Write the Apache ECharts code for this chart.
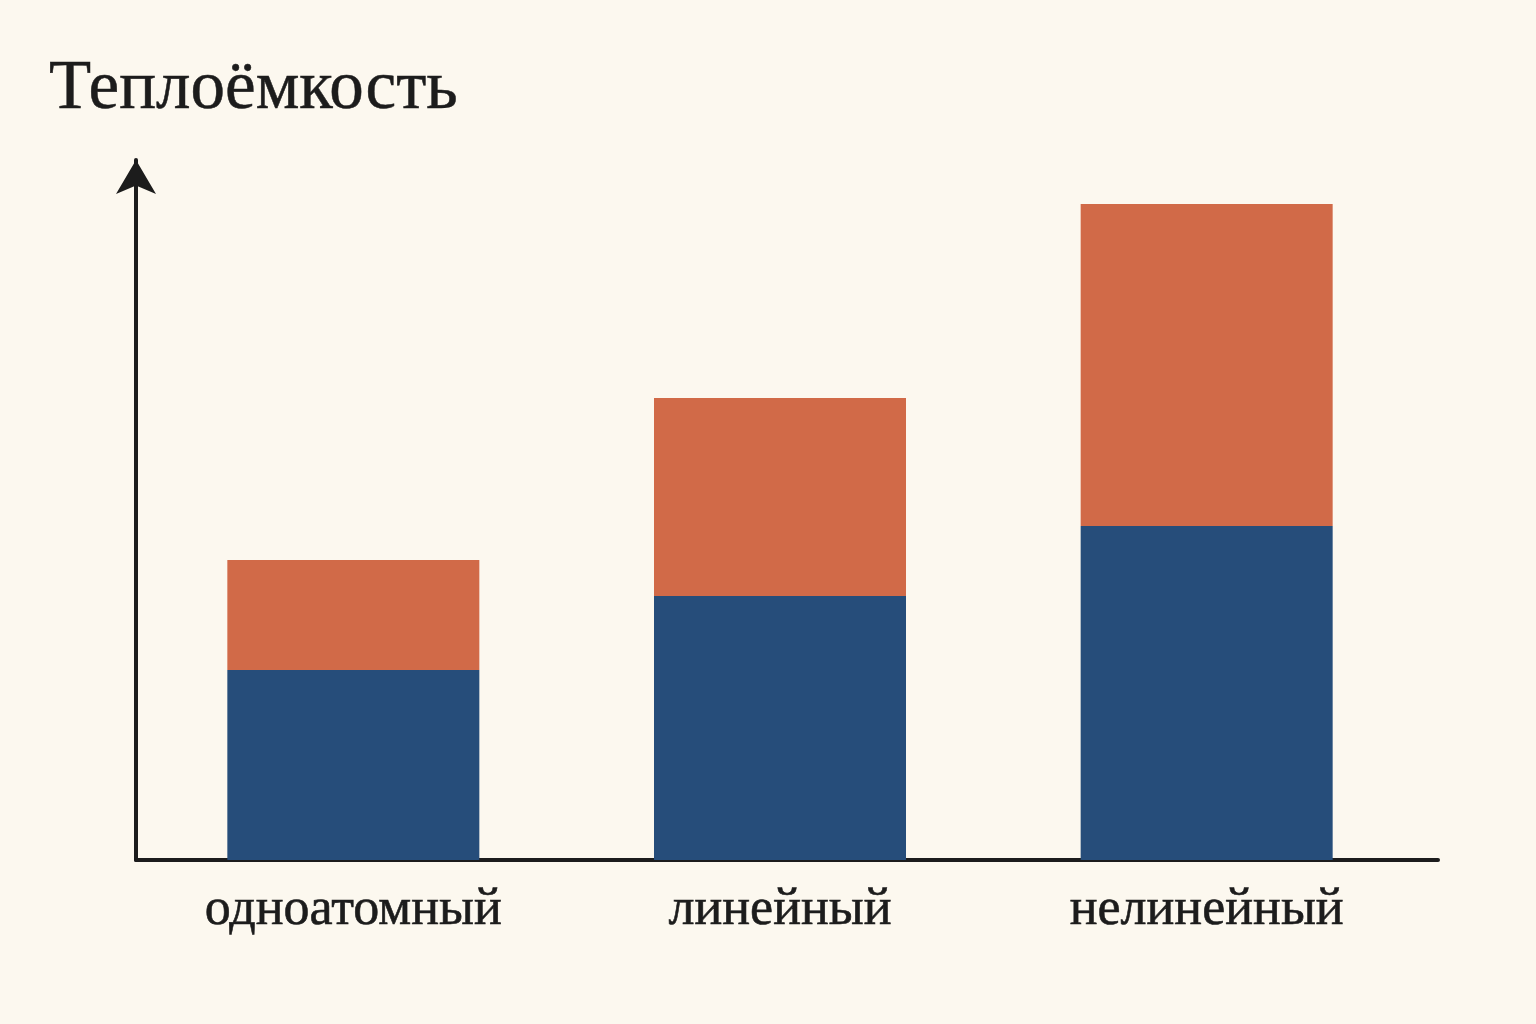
<!DOCTYPE html>
<html lang="ru">
<head>
<meta charset="utf-8">
<title>Теплоёмкость</title>
<script src="https://cdn.jsdelivr.net/npm/echarts@6/dist/echarts.min.js"></script>
<style>
  html, body { margin: 0; padding: 0; background: #fcf8ef; }
  #chart { width: 1536px; height: 1024px; }
</style>
</head>
<body>
<div id="chart"></div>
<script>
// типы молекул
var categories = ['одноатомный', 'линейный', 'нелинейный'];
// нижняя часть столбца (синяя) и верхняя (оранжевая), в условных единицах
var lowerPart = [1.90, 2.64, 3.34];
var upperPart = [1.10, 1.98, 3.22];

var serif = 'Liberation Serif';
var ink = '#1c1c1c';

var chart = echarts.init(document.getElementById('chart'));

var option = {
    backgroundColor: '#fcf8ef',
    animation: false,
    title: {
        text: 'Теплоёмкость',
        left: 44,
        top: 50,
        textStyle: {
            fontFamily: serif,
            fontWeight: 'normal',
            fontSize: 69,
            color: ink,
            textBorderColor: ink,
            textBorderWidth: 0.5
        }
    },
    // сетка 0 — столбцы и подписи, сетка 1 — оси со стрелкой
    grid: [
        { left: 140, right: 116, top: 160, bottom: 164 },
        { left: 136, right: 98, top: 160, bottom: 164 }
    ],
    xAxis: [
        {
            type: 'category',
            gridIndex: 0,
            data: categories,
            axisLine: { show: false },
            axisTick: { show: false },
            axisLabel: {
                margin: 24,
                fontFamily: serif,
                fontSize: 52,
                color: ink,
                textBorderColor: ink,
                textBorderWidth: 0.6
            }
        },
        {
            type: 'value',
            gridIndex: 1,
            min: 0,
            max: 1,
            splitLine: { show: false },
            axisTick: { show: false },
            axisLabel: { show: false },
            axisLine: {
                show: true,
                lineStyle: { color: ink, width: 4 }
            }
        }
    ],
    yAxis: [
        {
            type: 'value',
            gridIndex: 0,
            min: 0,
            max: 7,
            show: false
        },
        {
            type: 'value',
            gridIndex: 1,
            min: 0,
            max: 7,
            splitLine: { show: false },
            axisLabel: { show: false },
            axisTick: { show: false },
            axisLine: {
                show: true,
                symbol: ['none', 'arrow'],
                symbolSize: [30, 34],
                lineStyle: { color: ink, width: 4 }
            }
        }
    ],
    series: [
        {
            type: 'bar',
            stack: 'total',
            barWidth: 252,
            data: lowerPart,
            itemStyle: { color: '#264d7a' }
        },
        {
            type: 'bar',
            stack: 'total',
            barWidth: 252,
            data: upperPart,
            itemStyle: { color: '#d16a48' }
        }
    ]
};

chart.setOption(option);
</script>
</body>
</html>
